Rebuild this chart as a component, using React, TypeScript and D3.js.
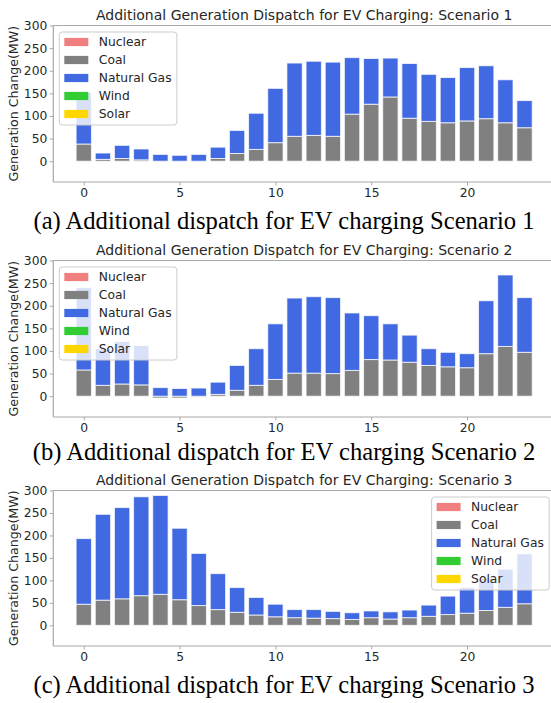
import { useEffect, useRef } from "react";
import * as d3 from "d3";

// hour of day
const hours = [0, 1, 2, 3, 4, 5, 6, 7, 8, 9, 10, 11, 12, 13, 14, 15, 16, 17, 18, 19, 20, 21, 22, 23];
const sources = ["Nuclear", "Coal", "Natural Gas", "Wind", "Solar"];
const colors = ["#f08080", "#808080", "#4169e1", "#32cd32", "#ffd700"];
const yTicks = [0, 50, 100, 150, 200, 250, 300];
const xTicks = [0, 5, 10, 15, 20];

// Scenario 1 (MW)
const s1Nuclear = [0, 0, 0, 0, 0, 0, 0, 0, 0, 0, 0, 0, 0, 0, 0, 0, 0, 0, 0, 0, 0, 0, 0, 0];
const s1Coal = [38, 4, 6, 3, 0, 0, 0, 6, 17, 26, 41, 55, 57, 55, 104, 126, 142, 95, 88, 85, 89, 94, 85, 74];
const s1Gas = [114, 14, 29, 24, 15, 13, 15, 25, 51, 80, 120, 162, 164, 164, 125, 101, 86, 121, 104, 100, 118, 117, 95, 60];
const s1Wind = [0, 0, 0, 0, 0, 0, 0, 0, 0, 0, 0, 0, 0, 0, 0, 0, 0, 0, 0, 0, 0, 0, 0, 0];
const s1Solar = [0, 0, 0, 0, 0, 0, 0, 0, 0, 0, 0, 0, 0, 0, 0, 0, 0, 0, 0, 0, 0, 0, 0, 0];

// Scenario 2 (MW)
const s2Nuclear = [0, 0, 0, 0, 0, 0, 0, 0, 0, 0, 0, 0, 0, 0, 0, 0, 0, 0, 0, 0, 0, 0, 0, 0];
const s2Coal = [58, 24, 27, 25, -4, -4, -2, 4, 13, 24, 37, 51, 51, 50, 57, 81, 80, 75, 68, 65, 63, 94, 110, 97];
const s2Gas = [182, 81, 94, 87, 19, 17, 18, 27, 55, 81, 123, 166, 169, 168, 127, 97, 80, 60, 37, 32, 31, 117, 158, 121];
const s2Wind = [0, 0, 0, 0, 0, 0, 0, 0, 0, 0, 0, 0, 0, 0, 0, 0, 0, 0, 0, 0, 0, 0, 0, 0];
const s2Solar = [0, 0, 0, 0, 0, 0, 0, 0, 0, 0, 0, 0, 0, 0, 0, 0, 0, 0, 0, 0, 0, 0, 0, 0];

// Scenario 3 (MW)
const s3Nuclear = [0, 0, 0, 0, 0, 0, 0, 0, 0, 0, 0, 0, 0, 0, 0, 0, 0, 0, 0, 0, 0, 0, 0, 0];
const s3Coal = [47, 56, 59, 66, 69, 57, 44, 35, 29, 23, 19, 17, 16, 15, 13, 17, 14, 17, 20, 24, 27, 33, 40, 48];
const s3Gas = [146, 191, 203, 220, 220, 159, 116, 80, 55, 39, 28, 18, 19, 16, 15, 15, 16, 17, 25, 41, 57, 71, 85, 111];
const s3Wind = [0, 0, 0, 0, 0, 0, 0, 0, 0, 0, 0, 0, 0, 0, 0, 0, 0, 0, 0, 0, 0, 0, 0, 0];
const s3Solar = [0, 0, 0, 0, 0, 0, 0, 0, 0, 0, 0, 0, 0, 0, 0, 0, 0, 0, 0, 0, 0, 0, 0, 0];

const panels = [
  {
    title: "Additional Generation Dispatch for EV Charging: Scenario 1",
    caption: "(a) Additional dispatch for EV charging Scenario 1",
    series: [s1Nuclear, s1Coal, s1Gas, s1Wind, s1Solar],
    top: 25.5, bottom: 182, captionY: 229, legendRight: false,
  },
  {
    title: "Additional Generation Dispatch for EV Charging: Scenario 2",
    caption: "(b) Additional dispatch for EV charging Scenario 2",
    series: [s2Nuclear, s2Coal, s2Gas, s2Wind, s2Solar],
    top: 260.5, bottom: 417, captionY: 460, legendRight: false,
  },
  {
    title: "Additional Generation Dispatch for EV Charging: Scenario 3",
    caption: "(c) Additional dispatch for EV charging Scenario 3",
    series: [s3Nuclear, s3Coal, s3Gas, s3Wind, s3Solar],
    top: 490.5, bottom: 646, captionY: 693, legendRight: true,
  },
];

const W = 551, H = 703;
const left = 53.3, right = 555;
const sans = "DejaVu Sans, sans-serif";

const App = () => {
  const ref = useRef<SVGSVGElement>(null);

  useEffect(() => {
    const svg = d3.select(ref.current);
    svg.selectAll("*").remove();

    const x = d3.scaleLinear().domain([-1.59, 24.59]).range([left, right]);
    const bw = x(0.8) - x(0);

    panels.forEach((p) => {
      const y = d3.scaleLinear().domain([-46, 300]).range([p.bottom, p.top]);
      const g = svg.append("g");

      const rows = hours.map((h, i) => {
        const r: any = { hour: h };
        sources.forEach((s, k) => (r[s] = p.series[k][i]));
        return r;
      });
      const stacked = d3.stack().keys(sources).offset(d3.stackOffsetDiverging)(rows);

      // bars
      stacked.forEach((layer, k) => {
        g.append("g")
          .selectAll("rect")
          .data(layer.filter((d) => d[1] - d[0] !== 0))
          .enter()
          .append("rect")
          .attr("x", (d: any) => x(d.data.hour - 0.4))
          .attr("width", bw)
          .attr("y", (d) => y(Math.max(d[0], d[1])))
          .attr("height", (d) => Math.abs(y(d[0]) - y(d[1])))
          .attr("fill", colors[k])
          .attr("stroke", "#ffffff")
          .attr("stroke-opacity", 0.75)
          .attr("stroke-width", 1);
      });

      // spines
      const spine = "#a8a8a8";
      g.append("line").attr("x1", left).attr("x2", left).attr("y1", p.top).attr("y2", p.bottom)
        .attr("stroke", spine).attr("stroke-width", 1.2);
      g.append("line").attr("x1", left).attr("x2", right).attr("y1", p.bottom).attr("y2", p.bottom)
        .attr("stroke", spine).attr("stroke-width", 1.2);
      g.append("line").attr("x1", left).attr("x2", right).attr("y1", p.top).attr("y2", p.top)
        .attr("stroke", spine).attr("stroke-width", 1.2);

      // axes
      const ya = g.append("g").attr("transform", `translate(${left},0)`)
        .call(d3.axisLeft(y).tickValues(yTicks).tickSize(3.5).tickPadding(2.5));
      const xa = g.append("g").attr("transform", `translate(0,${p.bottom})`)
        .call(d3.axisBottom(x).tickValues(xTicks).tickSize(3.5).tickPadding(3));
      [ya, xa].forEach((a) => {
        a.select(".domain").remove();
        a.selectAll("line").attr("stroke", spine);
        a.selectAll("text").attr("fill", "#262626").style("font", `12.3px ${sans}`);
      });

      g.append("text")
        .attr("transform", `translate(18,${(p.top + p.bottom) / 2}) rotate(-90)`)
        .attr("text-anchor", "middle")
        .attr("fill", "#262626")
        .style("font", `12.6px ${sans}`)
        .text("Generation Change(MW)");

      g.append("text")
        .attr("x", (left + right) / 2)
        .attr("y", p.top - 5.5)
        .attr("text-anchor", "middle")
        .attr("fill", "#262626")
        .style("font", `14px ${sans}`)
        .text(p.title);

      // legend
      const lw = 117.6, lh = 93;
      const lx = p.legendRight ? right - 5.8 - lw : left + 6;
      const ly = p.top + 6.5;
      const lg = g.append("g").attr("transform", `translate(${lx},${ly})`);
      lg.append("rect")
        .attr("width", lw).attr("height", lh).attr("rx", 3)
        .attr("fill", "#ffffff").attr("fill-opacity", 0.8)
        .attr("stroke", "#cccccc").attr("stroke-width", 1);
      sources.forEach((s, k) => {
        const cy = 10 + k * 18;
        lg.append("rect")
          .attr("x", 5).attr("y", cy - 4.1).attr("width", 24).attr("height", 8.2)
          .attr("fill", colors[k]);
        lg.append("text")
          .attr("x", 39.5).attr("y", cy).attr("dy", "0.36em")
          .attr("fill", "#262626")
          .style("font", `12.3px ${sans}`)
          .text(s);
      });

      // caption
      svg.append("text")
        .attr("x", 284)
        .attr("y", p.captionY)
        .attr("text-anchor", "middle")
        .attr("fill", "#000")
        .style("font", `24.6px "Liberation Serif", "Times New Roman", serif`)
        .text(p.caption);
    });
  }, []);

  return (
    <svg
      ref={ref}
      width={W}
      height={H}
      viewBox={`0 0 ${W} ${H}`}
      style={{ position: "absolute", left: 0, top: 0, background: "#fff" }}
    />
  );
};

export default App;
